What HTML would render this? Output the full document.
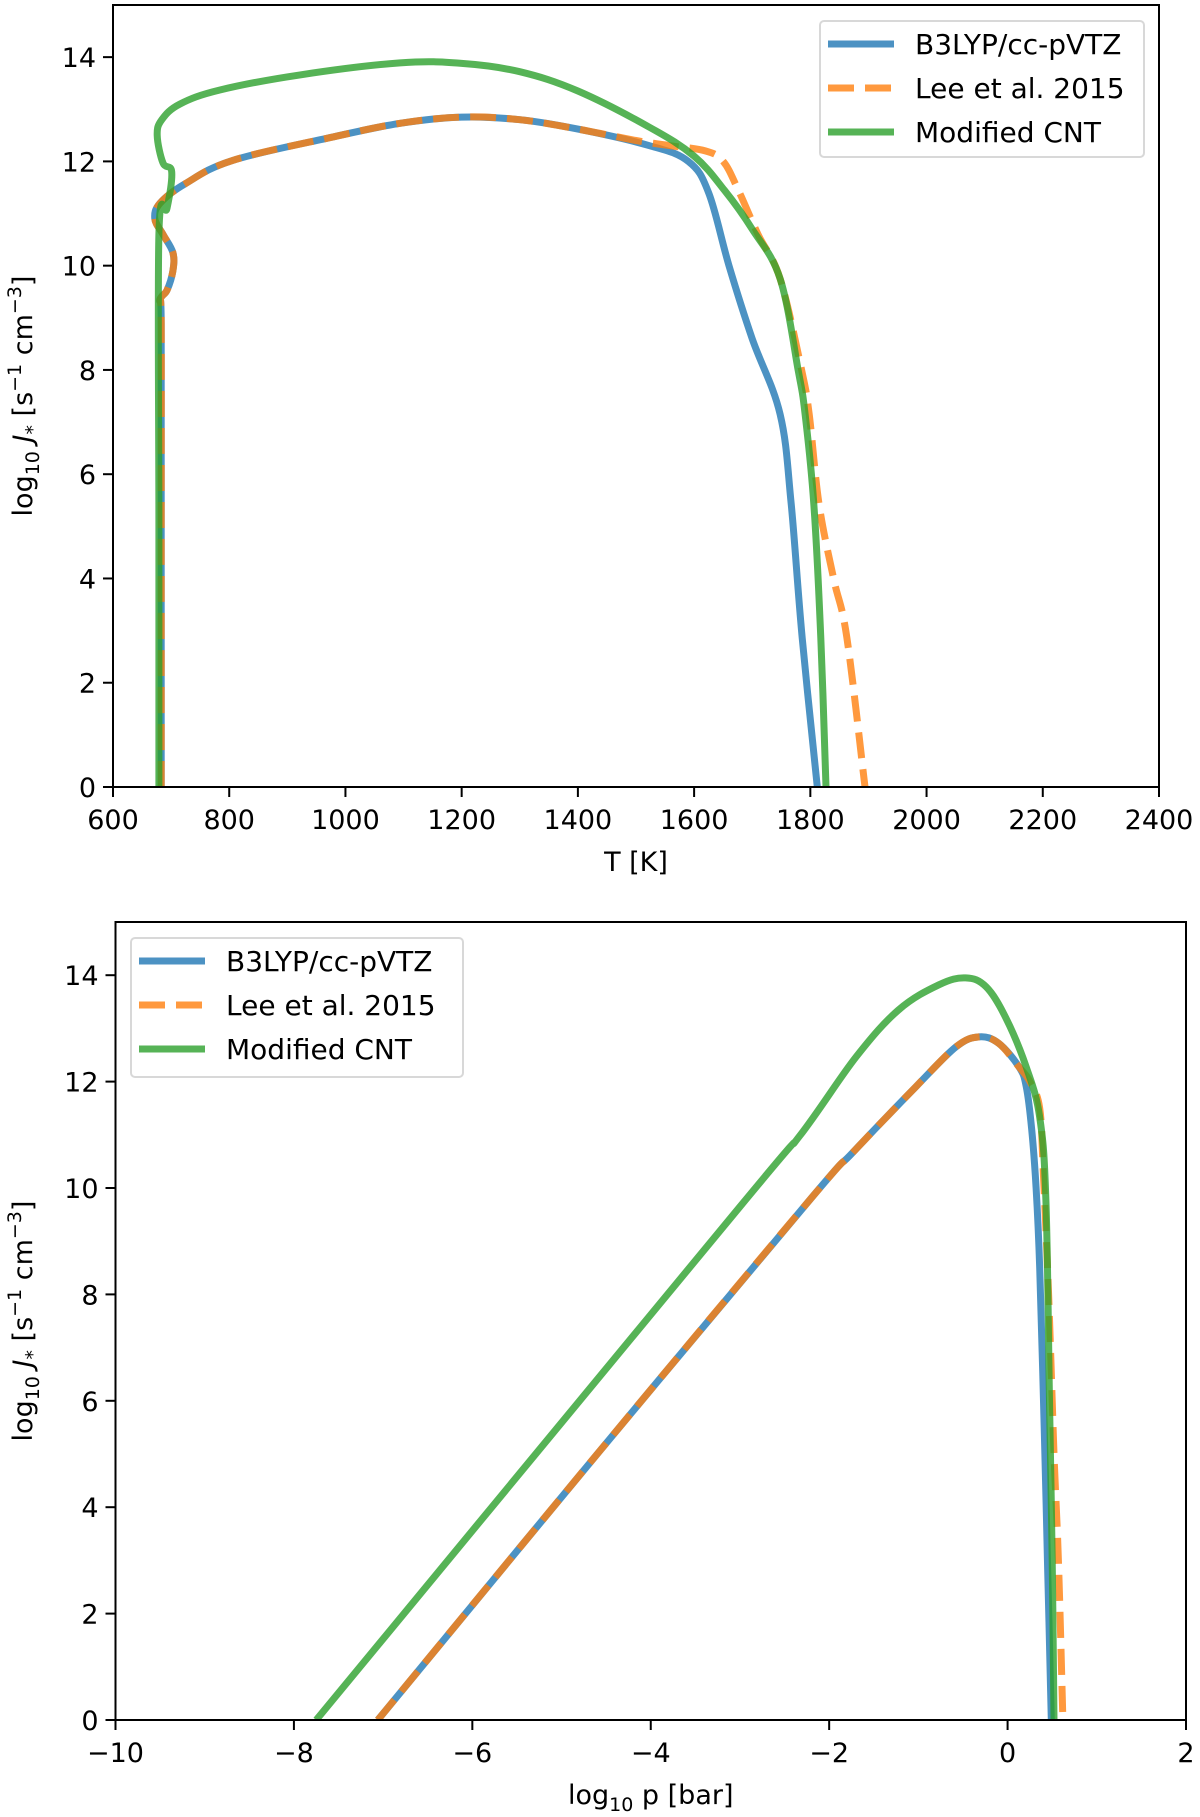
<!DOCTYPE html>
<html><head><meta charset="utf-8"><style>
body{margin:0;background:#fff;}
svg{display:block;font-family:"DejaVu Sans","Liberation Sans",sans-serif;}
</style></head><body>
<svg id="fig" width="1200" height="1817" viewBox="0 0 1200 1817" xmlns="http://www.w3.org/2000/svg">
<defs>
<clipPath id="c1"><rect x="113" y="5" width="1046" height="782"/></clipPath>
<clipPath id="c2"><rect x="115.5" y="922" width="1070.5" height="798"/></clipPath>
</defs>
<g id="top"></g>
<g id="bot"></g>
</svg>
<script>
// ---- Top panel data (T [K], log10 J) ----
const topXTicks = [600,800,1000,1200,1400,1600,1800,2000,2200,2400];
const yTicks = [0,2,4,6,8,10,12,14];
const topBlueT = [683,683,683,681,693,703,703,686,672,681,724,806,979,1094,1200,1300,1400,1524,1590,1625,1660,1700,1748,1767,1786,1812];
const topBlueV = [0,5,8.9,9.34,9.53,9.9,10.25,10.6,10.9,11.2,11.57,12.02,12.47,12.73,12.85,12.8,12.62,12.3,12.0,11.4,10.0,8.6,7.15,5.43,2.86,0];
const topOrangeT = [683,683,683,681,693,703,703,686,672,681,724,806,979,1094,1200,1300,1400,1500,1560,1620,1650,1676,1710,1748,1785,1798,1815,1840,1863,1894];
const topOrangeV = [0,5,8.9,9.34,9.53,9.9,10.25,10.6,10.9,11.2,11.57,12.02,12.47,12.73,12.85,12.8,12.62,12.4,12.3,12.2,12.0,11.45,10.6,9.75,8.0,7.15,5.43,4.0,2.86,0];
const topGreenT = [679,679,679,693,701,686,676,684,715,784,922,1094,1200,1300,1400,1524,1600,1652,1700,1748,1779,1791,1806,1818,1827];
const topGreenV = [0,5,10.6,11.1,11.8,11.97,12.5,12.8,13.1,13.37,13.66,13.89,13.88,13.72,13.35,12.65,12.1,11.45,10.7,9.75,8.0,7.15,5.43,2.86,0];
// ---- Bottom panel data (log10 p, log10 J) ----
const botXTicks = [-10,-8,-6,-4,-2,0,2];
const botXLabels = ["\u221210","\u22128","\u22126","\u22124","\u22122","0","2"];
const botBlueP = [-7.06,-4.57,-2.19,-1.74,-1.03,-0.58,-0.32,-0.1,0.13,0.21,0.27,0.32,0.36,0.41,0.45,0.49];
const botBlueV = [0,5.06,9.83,10.66,11.9,12.65,12.84,12.72,12.27,11.9,11.1,10.0,8.5,5.5,2.8,0];
const botOrangeP = [-7.06,-4.57,-2.19,-1.74,-1.03,-0.58,-0.32,-0.1,0.13,0.25,0.36,0.40,0.46,0.52,0.57,0.62];
const botOrangeV = [0,5.06,9.83,10.66,11.9,12.65,12.84,12.72,12.27,12.0,11.5,10.3,8,5,3,0];
const botGreenP = [-7.75,-3,-2.33,-1.7,-1.22,-0.77,-0.47,-0.24,-0.02,0.21,0.36,0.43,0.47,0.5,0.52];
const botGreenV = [0,9.65,10.98,12.46,13.35,13.82,13.95,13.78,13.2,12.27,11.33,9.77,6,3,0];
const legendLabels = ["B3LYP/cc-pVTZ","Lee et al. 2015","Modified CNT"];

const NS="http://www.w3.org/2000/svg";
function mk(tag, attrs, parent){const e=document.createElementNS(NS,tag);for(const k in attrs)e.setAttribute(k,attrs[k]);parent.appendChild(e);return e;}
const COL={blue:"#1f77b4",orange:"#ff7f0e",green:"#2ca02c"};
const DASH="26 11";
function smooth(pts){
  let d="M"+pts[0][0].toFixed(1)+","+pts[0][1].toFixed(1);
  const t=0.35;
  for(let i=0;i<pts.length-1;i++){
    const p0=pts[Math.max(0,i-1)],p1=pts[i],p2=pts[i+1],p3=pts[Math.min(pts.length-1,i+2)];
    const c1=[p1[0]+(p2[0]-p0[0])*t/2,p1[1]+(p2[1]-p0[1])*t/2];
    const c2=[p2[0]-(p3[0]-p1[0])*t/2,p2[1]-(p3[1]-p1[1])*t/2];
    d+="C"+c1[0].toFixed(1)+","+c1[1].toFixed(1)+" "+c2[0].toFixed(1)+","+c2[1].toFixed(1)+" "+p2[0].toFixed(1)+","+p2[1].toFixed(1);
  }
  return d;
}

function panel(g, cfg){
  const sx=v=>cfg.x0+(v-cfg.xmin)*(cfg.x1-cfg.x0)/(cfg.xmax-cfg.xmin);
  const sy=v=>cfg.y0-(v-0)*(cfg.y0-cfg.yTop)/15;
  const series=[["blue",cfg.bx,cfg.bv,null],["orange",cfg.ox,cfg.ov,DASH],["green",cfg.gx,cfg.gv,null]];
  const lg=mk("g",{"clip-path":"url(#"+cfg.clip+")"},g);
  series.forEach(s=>{
    const pts=s[1].map((x,i)=>[sx(x),sy(s[2][i])]);
    const p=mk("path",{d:smooth(pts),fill:"none",stroke:COL[s[0]],"stroke-width":7,"stroke-opacity":0.8,"stroke-linejoin":"round"},lg);
    if(s[3])p.setAttribute("stroke-dasharray",s[3]);
    
    
  });
  const fr=mk("rect",{x:cfg.x0,y:cfg.yTop,width:cfg.x1-cfg.x0,height:cfg.y0-cfg.yTop,fill:"none",stroke:"#000","stroke-width":2},g);
  
  
  cfg.xt.forEach((t,i)=>{
    const X=sx(t);
    const tk=mk("line",{x1:X,x2:X,y1:cfg.y0,y2:cfg.y0+10,stroke:"#000","stroke-width":2},g);
    
    
    const tx=mk("text",{x:X,y:cfg.y0+42,"text-anchor":"middle","font-size":27},g);
    tx.textContent=cfg.xl[i];
    
    
  });
  yTicks.forEach(t=>{
    const Y=sy(t);
    const tk=mk("line",{x1:cfg.x0-10,x2:cfg.x0,y1:Y,y2:Y,stroke:"#000","stroke-width":2},g);
    
    
    const tx=mk("text",{x:cfg.x0-17,y:Y+10,"text-anchor":"end","font-size":27},g);
    tx.textContent=String(t);
    
    
  });
  const L=cfg.leg;
  const lb=mk("rect",{x:L.x,y:L.y,width:L.w,height:L.h,rx:4,fill:"#fff","fill-opacity":0.8,stroke:"#d8d8d8","stroke-width":2},g);
  
  
  ["blue","orange","green"].forEach((c,i)=>{
    const yy=L.y+23+i*44;
    const ln=mk("line",{x1:L.x+8,x2:L.x+74,y1:yy,y2:yy,stroke:COL[c],"stroke-width":7,"stroke-opacity":0.8},g);
    if(c==="orange")ln.setAttribute("stroke-dasharray",DASH);
    
    
    const tx=mk("text",{x:L.x+95,y:yy+10,"font-size":28},g);
    tx.textContent=legendLabels[i];
    
    
  });
  const xl=mk("text",{x:(cfg.x0+cfg.x1)/2,y:cfg.y0+84,"text-anchor":"middle","font-size":27},g);
  xl.innerHTML=cfg.xlabel;
  
  
  const cy=(cfg.y0+cfg.yTop)/2;
  const yl=mk("text",{x:0,y:0,"text-anchor":"middle","font-size":27,transform:"translate(32,"+cy+") rotate(-90)"},g);
  yl.innerHTML='log<tspan font-size="19" dy="7">10</tspan><tspan dy="-7" font-style="italic"> J</tspan><tspan font-size="19" dy="7">*</tspan><tspan dy="-7"> [s</tspan><tspan font-size="19" dy="-11">\u22121</tspan><tspan dy="11"> cm</tspan><tspan font-size="19" dy="-11">\u22123</tspan><tspan dy="11">]</tspan>';
  
  
}
panel(document.getElementById("top"),{x0:113,x1:1159,xmin:600,xmax:2400,y0:787,yTop:5,clip:"c1",
  xt:topXTicks,xl:topXTicks.map(String),bx:topBlueT,bv:topBlueV,ox:topOrangeT,ov:topOrangeV,gx:topGreenT,gv:topGreenV,
  leg:{x:820,y:21,w:324,h:136},xlabel:"T [K]"});
panel(document.getElementById("bot"),{x0:115.5,x1:1186,xmin:-10,xmax:2,y0:1720,yTop:922,clip:"c2",
  xt:botXTicks,xl:botXLabels,bx:botBlueP,bv:botBlueV,ox:botOrangeP,ov:botOrangeV,gx:botGreenP,gv:botGreenV,
  leg:{x:131,y:938,w:332,h:139},xlabel:'log<tspan font-size="19" dy="7">10</tspan><tspan dy="-7"> p [bar]</tspan>'});
</script>
</body></html>
